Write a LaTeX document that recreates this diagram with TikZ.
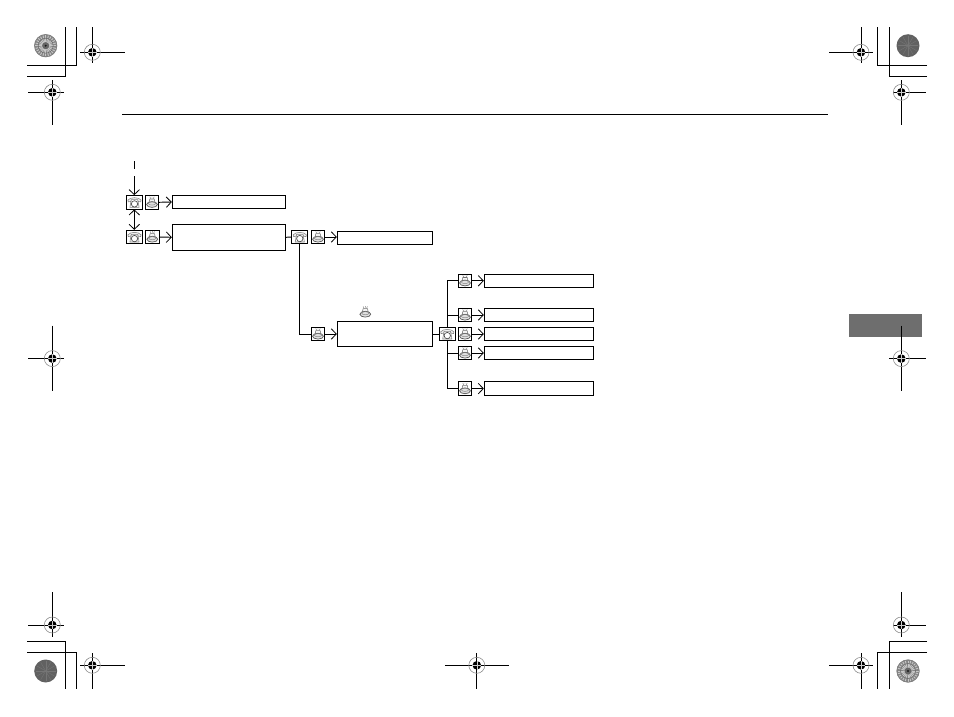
\documentclass[tikz,border=0pt]{standalone}
\usetikzlibrary{arrows.meta}
\definecolor{tabgray}{HTML}{6E6E6E}
\tikzset{
  x=1pt,y=-1pt,
  ln/.style={line width=0.95pt,black},
  conn/.style={ln},
  arr/.style={ln,-{Straight Barb[length=5pt,width=10.5pt,line width=0.8pt]}},
  arrs/.style={ln,{Straight Barb[length=5pt,width=10.5pt,line width=0.8pt]}-{Straight Barb[length=5pt,width=10.5pt,line width=0.8pt]}},
  tbox/.style={draw,line width=0.95pt,inner sep=0pt,minimum width=#1,anchor=center},
  ibox/.style={draw,line width=0.95pt,inner sep=0pt,minimum height=13.4pt,anchor=center,fill=white},
  phonebox/.style={ibox,minimum width=16pt},
  talkbox/.style={ibox,minimum width=13.4pt},
  phone/.pic={
    \draw[line width=0.55pt,black!50,fill=black!6] (-6.6,-2.2) .. controls (-4,-5.4) and (4,-5.4) .. (6.6,-2.2) -- (6.2,-0.4) -- (3.6,-0.9) -- (3.2,-2.6) -- (-3.2,-2.6) -- (-3.6,-0.9) -- (-6.2,-0.4) -- cycle;
    \draw[line width=0.55pt,black!50] (-3.4,-1.6) -- (-4.6,5) -- (4.6,5) -- (3.4,-1.6);
    \draw[line width=0.7pt,black!70,fill=white] (0,1.6) circle (3.2pt);
  },
  talk/.pic={
    \draw[line width=0.45pt,black!50] (-2.2,-5.6) -- (-1.2,-3.6) (2.2,-5.6) -- (1.2,-3.6) (0,-5.8) -- (0,-4.4);
    \draw[line width=0.55pt,black!55,fill=black!4] (-2.2,-3.3) -- (2.2,-3.3) -- (2.9,0) -- (-2.9,0) -- cycle;
    \draw[line width=0.7pt,black!65,fill=black!12] (0,2.2) ellipse (5.4pt and 2.9pt);
    \draw[line width=0.45pt,black!50] (0,1.2) ellipse (3.6pt and 1.6pt);
  },
  reg/.pic={
    \draw[line width=0.6pt,black!45] (0,0) circle (8pt);
    \fill[black] (0,0) circle (4.3pt);
    \draw[white!80!black,line width=0.55pt] (-4.4,0) -- (4.4,0) (0,-4.4) -- (0,4.4);
  },
}
\newcommand{\regmark}[7]{%
  \draw[ln] (#1-#3,#2) -- (#1+#4,#2) (#1,#2-#5) -- (#1,#2+#6);
  \pic at (#1,#2) {reg};
}
\newcommand{\raddisc}[3]{%
  \fill[black!48] (#1,#2) circle (11.5pt);
  \foreach \a in {0,15,...,345}{\draw[white!78!black,line width=0.9pt] (#1,#2) ++(\a:3.5pt) -- ++(\a:7pt);}
  \draw[black!58,line width=0.6pt] (#1,#2) circle (7.5pt);
  \draw[black!50,line width=0.6pt] (#1,#2) circle (11.2pt);
  \fill[black!60] (#1,#2) circle (3.4pt);
  \fill[black!90] (#1,#2) circle (1.1pt);
}
\newcommand{\darkdisc}[3]{%
  \fill[black!62] (#1,#2) circle (11.5pt);
  \foreach \a in {0,30,...,150}{\draw[black!54,line width=0.4pt] (#1,#2) ++(\a:-10pt) -- ++(\a:20pt);}
}
\begin{document}
\begin{tikzpicture}
\useasboundingbox (0,0) rectangle (954,717);
% page furniture
\draw[ln] (122,114) -- (828,114);
\fill[tabgray] (849,314) rectangle (922,337);
% corner crop lines
\draw[ln] (27,76) -- (65.3,76) -- (65.3,27);
\draw[ln] (27,65) -- (76.3,65) -- (76.3,27);
\draw[ln] (927,65) -- (877.3,65) -- (877.3,27);
\draw[ln] (927,76) -- (889.3,76) -- (889.3,27);
\draw[ln] (27,641.7) -- (65.3,641.7) -- (65.3,689);
\draw[ln] (27,652.3) -- (76.3,652.3) -- (76.3,689);
\draw[ln] (927,652.3) -- (877.3,652.3) -- (877.3,689);
\draw[ln] (927,641.7) -- (889.3,641.7) -- (889.3,689);
\raddisc{45.7}{45.7}{}
\darkdisc{908}{45.7}{}
\darkdisc{45.7}{671}{}
\raddisc{908}{671}{}
\regmark{92.3}{52.3}{12}{33}{25}{11}{}
\regmark{52.3}{92.3}{24}{12}{12}{33}{}
\regmark{861}{52.3}{32}{12}{25}{11}{}
\regmark{901.3}{92.3}{8}{25}{12}{33}{}
\regmark{52.3}{625}{24}{12}{33}{12}{}
\regmark{92.3}{665.3}{12}{33}{12}{24}{}
\regmark{901.3}{625}{8}{25}{33}{12}{}
\regmark{861}{665.3}{32}{12}{12}{24}{}
\regmark{52.3}{358.6}{24}{12}{33}{32}{}
\regmark{901.3}{358.6}{12}{25}{33}{32}{}
\regmark{476.8}{665.3}{32}{32}{12}{24}{}
% flow boxes
\coordinate (start) at (134.3,176);
\draw[ln] (134.3,161) -- (134.3,169);
\node[phonebox] (p1) at (134.5,202.3) {};
\node[talkbox] (t1) at (152,202.3) {};
\node[tbox=113.4pt,minimum height=13.4pt] (b1) at (229,202) {};
\node[phonebox] (p2) at (134.5,237) {};
\node[talkbox] (t2) at (152.3,237) {};
\node[tbox=113.4pt,minimum height=26pt] (b2) at (229,237.3) {};
\node[phonebox] (p3) at (299.8,237) {};
\node[talkbox] (t3) at (318,237) {};
\node[tbox=95.4pt,minimum height=13.4pt] (b3) at (385,238) {};
\node[talkbox] (t4) at (318,334) {};
\node[tbox=95.4pt,minimum height=25.4pt] (b4) at (385,334) {};
\node[phonebox] (p5) at (447.3,334) {};
\node[talkbox] (ta) at (465,280.8) {};
\node[talkbox] (tb) at (465,315) {};
\node[talkbox] (tc) at (465,334) {};
\node[talkbox] (td) at (465,353) {};
\node[talkbox] (te) at (465,388.6) {};
\node[tbox=109.4pt,minimum height=13.4pt] (ba) at (539,280.8) {};
\node[tbox=109.4pt,minimum height=13.4pt] (bb) at (539,315) {};
\node[tbox=109.4pt,minimum height=13.4pt] (bc) at (539,334) {};
\node[tbox=109.4pt,minimum height=13.4pt] (bd) at (539,353) {};
\node[tbox=109.4pt,minimum height=13.4pt] (be) at (539,388.6) {};
\node[inner sep=0pt,minimum size=12pt] (tfree) at (365.3,312) {};
% icons
\foreach \n in {p1,p2,p3,p5}{\pic at (\n) {phone};}
\foreach \n in {t1,t2,t3,t4,ta,tb,tc,td,te,tfree}{\pic at (\n) {talk};}
% connectors
\draw[arr] (start) -- (p1.north-|start);
\draw[arrs] (p1.south-|start) -- (p2.north-|start);
\draw[arr] (t1) ++(6.7,0) -- (b1.west);
\draw[arr] (t2) ++(6.7,0) -- (b2.west);
\draw[conn] (b2.east) -- (p3.west);
\draw[arr] (t3.east) -- (b3.west|-t3);
\draw[conn] (p3.south) |- (t4.west);
\draw[arr] (t4.east) -- (b4.west);
\draw[conn] (b4.east) -- (p5.west);
\draw[conn] (ta.west) -| (p5.north);
\draw[conn] (tb.west) -- (tb.west-|p5);
\draw[conn] (te.west) -| (p5.south);
\draw[conn] (td.west) -- (td.west-|p5);
\foreach \k in {a,b,c,d,e}{\draw[arr] (t\k.east) -- (b\k.west);}
\end{tikzpicture}
\end{document}
